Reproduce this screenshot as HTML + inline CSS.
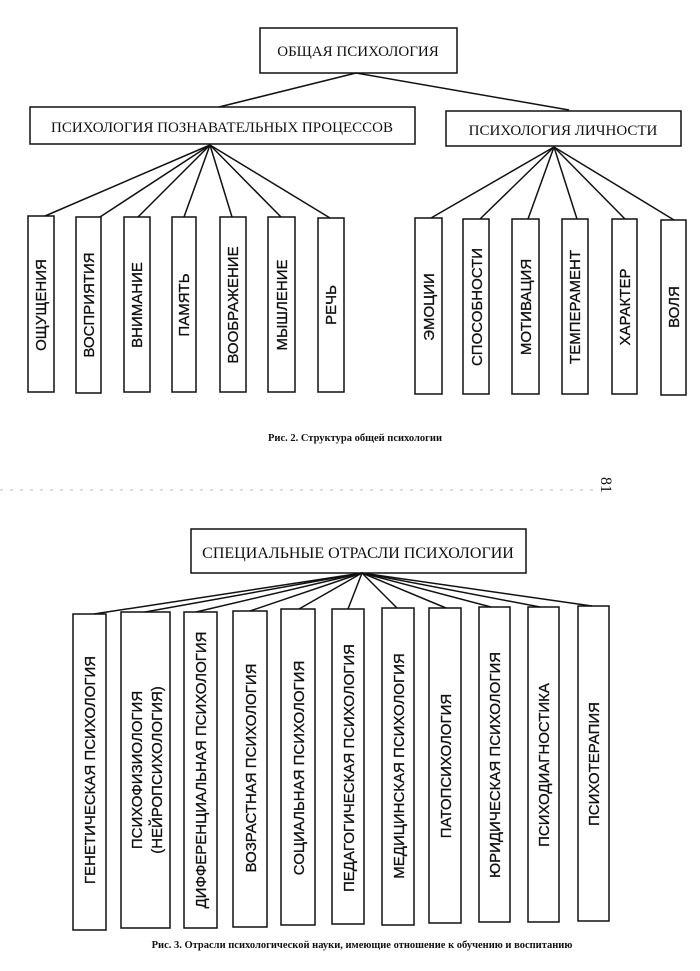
<!DOCTYPE html>
<html><head><meta charset="utf-8"><style>
html,body{margin:0;padding:0;background:#fff;}
svg{display:block;}
.s{font-family:"Liberation Serif",serif;fill:#111;}
.a{font-family:"Liberation Sans",sans-serif;fill:#111;}
</style></head><body>
<svg width="700" height="971" viewBox="0 0 700 971" xmlns="http://www.w3.org/2000/svg">
<rect width="700" height="971" fill="#fff"/>
<g stroke="#111" stroke-width="1.5" fill="none">
<rect x="260" y="28" width="197" height="45"/>
<rect x="30" y="107" width="385" height="37"/>
<rect x="446" y="111" width="235" height="35"/>
<line x1="356" y1="73" x2="219" y2="107"/>
<line x1="356" y1="73" x2="569" y2="110"/>
<rect x="28" y="216" width="26" height="176"/>
<rect x="76" y="217" width="25" height="176"/>
<rect x="124" y="217" width="26" height="175"/>
<rect x="172" y="217" width="24" height="175"/>
<rect x="220" y="217" width="26" height="175"/>
<rect x="268" y="217" width="27" height="175"/>
<rect x="318" y="218" width="26" height="174"/>
<line x1="210" y1="145" x2="45" y2="216"/>
<line x1="210" y1="145" x2="100" y2="217"/>
<line x1="210" y1="145" x2="138" y2="217"/>
<line x1="210" y1="145" x2="184" y2="217"/>
<line x1="210" y1="145" x2="232" y2="217"/>
<line x1="210" y1="145" x2="281" y2="217"/>
<line x1="210" y1="145" x2="330" y2="218"/>
<rect x="415" y="218" width="27" height="176"/>
<rect x="463" y="219" width="26" height="175"/>
<rect x="512" y="219" width="27" height="175"/>
<rect x="562" y="219" width="26" height="175"/>
<rect x="612" y="219" width="25" height="175"/>
<rect x="661" y="220" width="25" height="175"/>
<line x1="554" y1="147" x2="431" y2="218"/>
<line x1="554" y1="147" x2="480" y2="219"/>
<line x1="554" y1="147" x2="528" y2="219"/>
<line x1="554" y1="147" x2="577" y2="219"/>
<line x1="554" y1="147" x2="625" y2="219"/>
<line x1="554" y1="147" x2="674" y2="220"/>
<rect x="191" y="529" width="335" height="44"/>
<rect x="73" y="614" width="33" height="316"/>
<rect x="121" y="612" width="49" height="316"/>
<rect x="184" y="612" width="33" height="316"/>
<rect x="233" y="611" width="34" height="316"/>
<rect x="281" y="609" width="34" height="316"/>
<rect x="332" y="609" width="32" height="315"/>
<rect x="382" y="608" width="32" height="317"/>
<rect x="429" y="608" width="32" height="315"/>
<rect x="479" y="607" width="31" height="315"/>
<rect x="528" y="607" width="31" height="315"/>
<rect x="578" y="606" width="31" height="315"/>
<line x1="362" y1="573" x2="94" y2="614"/>
<line x1="362" y1="573" x2="145" y2="612"/>
<line x1="362" y1="573" x2="196" y2="612"/>
<line x1="362" y1="573" x2="250" y2="611"/>
<line x1="362" y1="573" x2="299" y2="609"/>
<line x1="362" y1="573" x2="348" y2="609"/>
<line x1="362" y1="573" x2="397" y2="608"/>
<line x1="362" y1="573" x2="446" y2="608"/>
<line x1="362" y1="573" x2="491" y2="607"/>
<line x1="362" y1="573" x2="540" y2="607"/>
<line x1="362" y1="573" x2="592" y2="606"/>
</g>
<line x1="0" y1="490" x2="595" y2="490" stroke="#bbb" stroke-width="1" stroke-dasharray="3,7"/>
<text class="s" x="358" y="56" font-size="15" text-anchor="middle">ОБЩАЯ ПСИХОЛОГИЯ</text>
<text class="s" x="222" y="132" font-size="15" text-anchor="middle">ПСИХОЛОГИЯ ПОЗНАВАТЕЛЬНЫХ ПРОЦЕССОВ</text>
<text class="s" x="563" y="135" font-size="15" text-anchor="middle">ПСИХОЛОГИЯ ЛИЧНОСТИ</text>
<g class="a" font-size="15" text-anchor="middle" stroke="#111" stroke-width="0.3">
<text transform="translate(46,305) rotate(-90)">ОЩУЩЕНИЯ</text>
<text transform="translate(94,305) rotate(-90)">ВОСПРИЯТИЯ</text>
<text transform="translate(142,305) rotate(-90)">ВНИМАНИЕ</text>
<text transform="translate(189,305) rotate(-90)">ПАМЯТЬ</text>
<text transform="translate(238,305) rotate(-90)">ВООБРАЖЕНИЕ</text>
<text transform="translate(287,305) rotate(-90)">МЫШЛЕНИЕ</text>
<text transform="translate(336,305) rotate(-90)">РЕЧЬ</text>
<text transform="translate(434,307) rotate(-90)">ЭМОЦИИ</text>
<text transform="translate(482,307) rotate(-90)">СПОСОБНОСТИ</text>
<text transform="translate(531,307) rotate(-90)">МОТИВАЦИЯ</text>
<text transform="translate(580,307) rotate(-90)">ТЕМПЕРАМЕНТ</text>
<text transform="translate(630,307) rotate(-90)">ХАРАКТЕР</text>
<text transform="translate(679,307) rotate(-90)">ВОЛЯ</text>
</g>
<text class="s" x="355" y="441" font-size="10.5" font-weight="bold" text-anchor="middle">Рис. 2. Структура общей психологии</text>
<text class="s" transform="translate(601,485) rotate(90)" font-size="16" text-anchor="middle">81</text>
<text class="s" x="358" y="558" font-size="16" text-anchor="middle">СПЕЦИАЛЬНЫЕ ОТРАСЛИ ПСИХОЛОГИИ</text>
<g class="a" font-size="15" text-anchor="middle" stroke="#111" stroke-width="0.3">
<text transform="translate(95,770) rotate(-90)">ГЕНЕТИЧЕСКАЯ ПСИХОЛОГИЯ</text>
<text transform="translate(142,770) rotate(-90)">ПСИХОФИЗИОЛОГИЯ</text>
<text transform="translate(162,770) rotate(-90)">(НЕЙРОПСИХОЛОГИЯ)</text>
<text transform="translate(206,770) rotate(-90)">ДИФФЕРЕНЦИАЛЬНАЯ ПСИХОЛОГИЯ</text>
<text transform="translate(256,768) rotate(-90)">ВОЗРАСТНАЯ ПСИХОЛОГИЯ</text>
<text transform="translate(304,768) rotate(-90)">СОЦИАЛЬНАЯ ПСИХОЛОГИЯ</text>
<text transform="translate(354,768) rotate(-90)">ПЕДАГОГИЧЕСКАЯ ПСИХОЛОГИЯ</text>
<text transform="translate(404,766) rotate(-90)">МЕДИЦИНСКАЯ ПСИХОЛОГИЯ</text>
<text transform="translate(451,766) rotate(-90)">ПАТОПСИХОЛОГИЯ</text>
<text transform="translate(500,765) rotate(-90)">ЮРИДИЧЕСКАЯ ПСИХОЛОГИЯ</text>
<text transform="translate(549,765) rotate(-90)">ПСИХОДИАГНОСТИКА</text>
<text transform="translate(599,764) rotate(-90)">ПСИХОТЕРАПИЯ</text>
</g>
<text class="s" x="362" y="948" font-size="10.5" font-weight="bold" text-anchor="middle">Рис. 3. Отрасли психологической науки, имеющие отношение к обучению и воспитанию</text>
</svg>
</body></html>
